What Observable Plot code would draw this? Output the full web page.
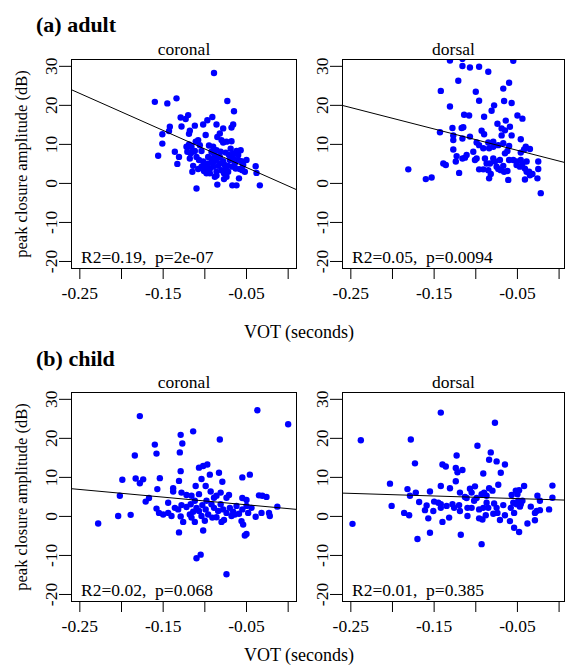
<!DOCTYPE html>
<html>
<head>
<meta charset="utf-8">
<script src="https://cdn.jsdelivr.net/npm/d3@7"></script>
<script src="https://cdn.jsdelivr.net/npm/@observablehq/plot@0.6"></script>
<style>
  html, body { margin: 0; padding: 0; background: #fff; overflow: hidden; }
  #root { position: relative; width: 565px; height: 666px; overflow: hidden;
          font-family: "Liberation Serif", "Times New Roman", serif; color: #000; }
  .abs { position: absolute; white-space: pre; line-height: 1; font-family: "Liberation Serif", serif; }
  .panel { position: absolute; }
  #root svg, #root svg text { font-family: "Liberation Serif", serif !important; }
  svg text { white-space: pre; }
</style>
</head>
<body>
<div id="root"></div>
<script>
// ---------- data ----------
const groupTitles = ["(a) adult", "(b) child"];
const panelNames = ["coronal", "dorsal"];
const xLabel = "VOT (seconds)";
const yLabel = "peak closure amplitude (dB)";
const xTicks = [-0.25, -0.2, -0.15, -0.1, -0.05, 0];
const xTickLabels = ["-0.25", "", "-0.15", "", "-0.05", ""];
const yTicks = [-20, -10, 0, 10, 20, 30];
const yTickLabels = ["-20", "-10", "0", "10", "20", "30"];
const statLabels = ["R2=0.19,  p=2e-07", "R2=0.05,  p=0.0094", "R2=0.02,  p=0.068", "R2=0.01,  p=0.385"];
// fitted regression lines (intercept, slope)
const fitIntercepts = [-0.65, 5.73, 2.0, 4.23];
const fitSlopes = [-94.8, -54.8, -19.6, -6.7];

// [VOT (s), peak closure amplitude (dB)]
const adultCoronal = [[-0.089,28.3],[-0.160,20.9],[-0.145,20.5],[-0.134,21.8],[-0.073,21.1],[-0.065,18.5],[-0.129,16.9],[-0.123,16.5],[-0.120,17.5],[-0.128,14.6],[-0.112,14.8],[-0.102,15.1],[-0.097,16.2],[-0.091,17.0],[-0.086,15.1],[-0.078,14.1],[-0.066,15.1],[-0.068,14.3],[-0.151,12.6],[-0.143,13.4],[-0.142,14.5],[-0.118,13.5],[-0.119,12.7],[-0.099,12.4],[-0.085,11.9],[-0.082,12.8],[-0.080,11.1],[-0.078,10.5],[-0.074,10.7],[-0.068,10.8],[-0.069,8.9],[-0.151,10.2],[-0.156,7.1],[-0.136,8.1],[-0.131,6.8],[-0.133,5.0],[-0.119,10.0],[-0.116,9.4],[-0.111,10.7],[-0.108,11.1],[-0.106,9.8],[-0.121,8.1],[-0.117,7.7],[-0.115,8.1],[-0.112,8.3],[-0.104,8.3],[-0.095,9.7],[-0.090,9.4],[-0.086,8.5],[-0.081,8.1],[-0.075,7.9],[-0.071,7.3],[-0.066,7.7],[-0.062,8.3],[-0.057,8.5],[-0.060,7.3],[-0.114,4.5],[-0.115,3.0],[-0.107,6.0],[-0.102,5.6],[-0.100,4.7],[-0.096,6.8],[-0.092,6.4],[-0.088,7.3],[-0.086,6.0],[-0.082,5.1],[-0.078,5.7],[-0.076,4.7],[-0.070,6.0],[-0.066,6.4],[-0.060,6.0],[-0.056,5.7],[-0.050,6.0],[-0.054,4.7],[-0.058,3.7],[-0.063,3.8],[-0.067,4.3],[-0.101,3.2],[-0.098,3.8],[-0.094,3.7],[-0.090,4.3],[-0.086,3.0],[-0.080,3.4],[-0.077,2.6],[-0.074,1.7],[-0.077,1.1],[-0.072,3.0],[-0.055,3.4],[-0.039,4.4],[-0.038,2.7],[-0.059,1.3],[-0.110,-1.3],[-0.085,-0.3],[-0.067,-0.5],[-0.062,-0.5],[-0.034,-0.5],[-0.104,4.3],[-0.108,3.7],[-0.096,5.1],[-0.090,5.4],[-0.084,4.5],[-0.072,4.5],[-0.075,3.7],[-0.094,2.6],[-0.098,2.6],[-0.086,2.0],[-0.122,9.4],[-0.110,6.8],[-0.118,6.4],[-0.092,8.1],[-0.082,6.8],[-0.064,5.1],[-0.052,3.0],[-0.088,1.7]];

const adultDorsal = [[-0.131,31.5],[-0.116,31.9],[-0.055,31.4],[-0.116,30.1],[-0.107,29.7],[-0.096,29.9],[-0.085,28.6],[-0.121,26.3],[-0.060,25.8],[-0.142,23.7],[-0.100,23.5],[-0.067,24.3],[-0.096,21.2],[-0.066,21.1],[-0.057,20.6],[-0.131,19.7],[-0.078,20.0],[-0.081,18.6],[-0.114,17.6],[-0.108,17.4],[-0.090,17.1],[-0.050,17.4],[-0.044,16.6],[-0.064,16.1],[-0.074,15.3],[-0.069,14.1],[-0.059,14.5],[-0.128,14.2],[-0.117,14.2],[-0.115,14.4],[-0.143,13.1],[-0.093,13.5],[-0.090,12.6],[-0.069,12.3],[-0.065,13.6],[-0.057,12.3],[-0.127,12.3],[-0.127,11.1],[-0.116,11.5],[-0.107,12.0],[-0.046,11.3],[-0.099,10.5],[-0.096,9.8],[-0.085,10.5],[-0.079,10.7],[-0.073,9.8],[-0.067,10.3],[-0.060,9.6],[-0.040,9.4],[-0.035,8.8],[-0.042,8.7],[-0.127,8.7],[-0.091,9.0],[-0.084,9.0],[-0.079,9.4],[-0.065,7.7],[-0.062,8.3],[-0.046,7.9],[-0.123,7.0],[-0.111,7.3],[-0.113,6.6],[-0.116,6.4],[-0.124,5.6],[-0.103,8.1],[-0.101,6.0],[-0.099,6.4],[-0.089,6.4],[-0.079,6.4],[-0.077,5.6],[-0.083,5.1],[-0.075,4.3],[-0.071,6.0],[-0.060,6.0],[-0.055,6.0],[-0.051,5.6],[-0.046,6.0],[-0.044,5.1],[-0.039,5.6],[-0.025,5.6],[-0.139,5.1],[-0.136,4.7],[-0.181,3.6],[-0.120,2.7],[-0.096,3.6],[-0.091,3.6],[-0.085,3.4],[-0.082,2.4],[-0.084,1.3],[-0.073,3.7],[-0.070,3.4],[-0.066,3.0],[-0.062,3.2],[-0.067,4.5],[-0.051,4.7],[-0.047,4.3],[-0.041,3.8],[-0.039,3.0],[-0.035,2.1],[-0.032,2.4],[-0.041,1.0],[-0.026,1.3],[-0.025,3.7],[-0.061,0.9],[-0.160,1.1],[-0.153,1.5],[-0.022,-2.5],[-0.036,3.0],[-0.087,5.1]];

const childCoronal = [[-0.037,27.2],[0.000,23.6],[-0.178,25.7],[-0.129,20.9],[-0.114,21.8],[-0.082,19.7],[-0.127,18.7],[-0.160,18.4],[-0.158,16.1],[-0.130,16.4],[-0.184,15.6],[-0.107,12.5],[-0.102,12.9],[-0.097,13.3],[-0.129,11.6],[-0.094,10.7],[-0.083,11.2],[-0.055,10.0],[-0.046,10.7],[-0.199,9.4],[-0.183,9.7],[-0.178,8.5],[-0.174,9.5],[-0.154,9.8],[-0.131,9.1],[-0.104,9.6],[-0.079,8.9],[-0.111,7.8],[-0.099,7.8],[-0.157,7.0],[-0.138,7.2],[-0.138,6.4],[-0.128,6.1],[-0.093,6.4],[-0.081,6.1],[-0.071,5.5],[-0.035,5.4],[-0.031,5.3],[-0.026,5.0],[-0.202,5.3],[-0.167,4.7],[-0.171,3.8],[-0.122,5.5],[-0.116,5.3],[-0.107,5.7],[-0.089,4.8],[-0.086,5.3],[-0.074,4.8],[-0.055,4.7],[-0.050,4.2],[-0.013,2.5],[-0.144,3.5],[-0.158,2.0],[-0.155,0.9],[-0.150,0.5],[-0.144,0.9],[-0.140,0.1],[-0.129,0.0],[-0.136,2.2],[-0.128,2.9],[-0.122,2.4],[-0.117,3.1],[-0.112,4.0],[-0.110,2.2],[-0.107,1.4],[-0.103,2.9],[-0.099,1.8],[-0.096,0.5],[-0.092,3.1],[-0.089,2.2],[-0.084,1.4],[-0.081,3.1],[-0.078,1.8],[-0.074,0.9],[-0.070,2.2],[-0.066,1.2],[-0.062,2.7],[-0.059,0.7],[-0.055,1.8],[-0.050,2.7],[-0.048,0.9],[-0.056,-1.2],[-0.054,-2.1],[-0.039,-0.1],[-0.032,0.9],[-0.023,0.9],[-0.022,0.1],[-0.228,-1.8],[-0.204,0.1],[-0.189,0.4],[-0.126,-1.4],[-0.112,-1.4],[-0.100,-1.1],[-0.080,-1.4],[-0.077,-0.9],[-0.131,-4.1],[-0.102,-3.6],[-0.052,-4.9],[-0.050,-4.5],[-0.110,-10.7],[-0.105,-9.8],[-0.074,-14.8],[-0.118,0.5],[-0.114,1.2],[-0.104,0.1],[-0.091,-0.3],[-0.086,-0.2],[-0.068,0.1],[-0.064,0.5],[-0.044,2.2],[-0.132,1.8],[-0.098,4.0],[-0.116,-0.3]];

const childDorsal = [[-0.142,26.6],[-0.077,24.0],[-0.238,19.5],[-0.178,19.7],[-0.098,18.1],[-0.082,16.4],[-0.123,15.6],[-0.084,14.5],[-0.075,14.1],[-0.065,13.3],[-0.173,13.6],[-0.140,13.3],[-0.136,12.8],[-0.124,12.4],[-0.122,11.3],[-0.116,11.9],[-0.091,11.0],[-0.070,11.2],[-0.203,8.4],[-0.124,9.0],[-0.142,7.8],[-0.131,7.2],[-0.182,7.0],[-0.172,6.1],[-0.155,6.4],[-0.073,8.1],[-0.101,7.7],[-0.107,7.1],[-0.105,6.1],[-0.179,5.3],[-0.084,7.2],[-0.080,6.6],[-0.090,6.1],[-0.087,5.3],[-0.042,7.8],[-0.052,6.6],[-0.048,6.7],[-0.008,7.9],[-0.008,4.8],[-0.026,5.3],[-0.057,5.5],[-0.201,2.7],[-0.168,3.7],[-0.159,2.8],[-0.161,1.6],[-0.150,3.8],[-0.142,3.1],[-0.142,2.2],[-0.128,3.1],[-0.126,2.2],[-0.120,2.9],[-0.119,1.4],[-0.113,5.0],[-0.110,2.2],[-0.105,2.2],[-0.102,4.0],[-0.096,1.8],[-0.091,2.2],[-0.087,3.5],[-0.085,2.2],[-0.078,3.3],[-0.075,2.2],[-0.079,0.7],[-0.074,0.9],[-0.067,2.9],[-0.065,0.3],[-0.071,-0.9],[-0.059,-1.2],[-0.054,0.9],[-0.055,3.5],[-0.051,3.1],[-0.049,4.0],[-0.046,3.1],[-0.044,4.0],[-0.034,2.5],[-0.029,0.9],[-0.027,1.4],[-0.023,1.6],[-0.012,1.8],[-0.038,-1.8],[-0.029,-1.0],[-0.054,-2.9],[-0.048,-4.0],[-0.248,-1.9],[-0.186,0.9],[-0.180,0.3],[-0.157,-0.5],[-0.140,-1.4],[-0.132,-0.3],[-0.155,-4.2],[-0.170,-5.8],[-0.118,-4.7],[-0.093,-7.1],[-0.110,0.1],[-0.096,-0.5],[-0.092,-0.8],[-0.088,0.3],[-0.119,6.1],[-0.111,4.7],[-0.099,4.7],[-0.093,5.7],[-0.151,1.4],[-0.145,3.5],[-0.050,5.7],[-0.047,2.5],[-0.023,4.0],[-0.058,2.2],[-0.135,2.7]];

const panelData = [adultCoronal, adultDorsal, childCoronal, childDorsal];

// ---------- drawing ----------
const root = document.getElementById("root");
const FONT = '"Liberation Serif", serif';
const yDomain = [-21.8, 31.75];

function addText(txt, left, top, size, bold, center) {
  const d = document.createElement("div");
  d.className = "abs";
  d.textContent = txt;
  d.style.left = left + "px";
  d.style.top = top + "px";
  d.style.fontSize = size + "px";
  d.style.fontWeight = bold ? "bold" : "normal";
  if (center) d.style.transform = "translateX(-50%)";
  root.appendChild(d);
}

function panel(k) {
  const isLeft = k % 2 === 0;
  const mL = isLeft ? 71 : 42;
  const frameW = isLeft ? 225 : 222;
  const xDomain = isLeft ? [-0.26, 0.01] : [-0.26, 0.0065];
  const b0 = fitIntercepts[k], b1 = fitSlopes[k];
  const marks = [
    Plot.dot(panelData[k], {x: d => d[0], y: d => d[1], r: 3.2, fill: "#0000ff", clip: "frame"}),
    Plot.line(xDomain, {x: d => d, y: d => b0 + b1 * d, stroke: "black", strokeWidth: 1, clip: "frame"}),
    Plot.frame({stroke: "black", strokeWidth: 1}),
    Plot.axisX({ticks: xTicks, tickFormat: d => xTickLabels[xTicks.indexOf(d)], tickSize: 11, tickPadding: 7, fontFamily: FONT, label: null}),
    Plot.axisY({ticks: yTicks, tickFormat: d => yTickLabels[yTicks.indexOf(d)], tickSize: 12, tickPadding: 2.5, tickRotate: -90, textAnchor: "middle", lineAnchor: "bottom", fontFamily: FONT, label: null}),
    Plot.text([statLabels[k]], {frameAnchor: "bottom-left", textAnchor: "start", lineAnchor: "bottom", dx: 9.5, dy: -6, fontSize: 17.5, fontFamily: FONT}),
    Plot.text([panelNames[k % 2]], {frameAnchor: "top", lineAnchor: "bottom", dy: -5, fontSize: 17.5, fontFamily: FONT})
  ];
  if (isLeft) {
    marks.push(Plot.text([yLabel], {frameAnchor: "left", rotate: -90, textAnchor: "middle", lineAnchor: "bottom", dx: -45, fontSize: 16.5, fontFamily: FONT}));
  }
  return Plot.plot({
    width: mL + frameW + 1,
    height: 19 + 209 + 40,
    marginLeft: mL, marginRight: 1, marginTop: 19, marginBottom: 40,
    style: {fontFamily: FONT, fontSize: "17.5px", color: "black", background: "transparent", overflow: "visible"},
    x: {domain: xDomain},
    y: {domain: yDomain},
    marks
  });
}

const tops = [40, 373];
for (let k = 0; k < 4; k++) {
  const svg = panel(k);
  const wrap = document.createElement("div");
  wrap.className = "panel";
  wrap.style.left = (k % 2 === 0 ? 0 : 300) + "px";
  wrap.style.top = tops[Math.floor(k / 2)] + "px";
  wrap.appendChild(svg);
  root.appendChild(wrap);
}

// group titles and shared x-axis titles (baseline ≈ top + 0.8375·size)
addText(groupTitles[0], 36, 32 - 0.8375 * 22, 22, true, false);
addText(groupTitles[1], 36, 366 - 0.8375 * 22, 22, true, false);
addText(xLabel, 299, 338.5 - 0.8375 * 18, 18, false, true);
addText(xLabel, 299, 661 - 0.8375 * 18, 18, false, true);
</script>
</body>
</html>
